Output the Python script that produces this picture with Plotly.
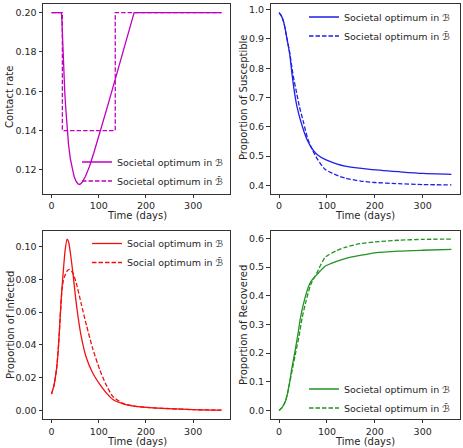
import plotly.graph_objects as go

# ---------------- data ----------------
# Contact rate
t_c_s = [0, 21, 22, 23, 24, 26, 28, 30, 33, 36, 40, 44, 48, 52, 56, 60, 65, 72, 80, 90, 104, 120, 140, 160, 175, 360]
c_s = [0.2, 0.2, 0.196, 0.189, 0.18, 0.169, 0.16, 0.152, 0.14, 0.133, 0.1255, 0.12, 0.1165, 0.1143, 0.1129,
       0.1126, 0.1137, 0.1168, 0.1215, 0.129, 0.14, 0.1535, 0.1704, 0.1873, 0.2, 0.2]
t_c_d = [0, 23, 23, 135, 135, 360]
c_d = [0.2, 0.2, 0.14, 0.14, 0.2, 0.2]

# Susceptible
t_s_s = [0, 5, 10, 16, 22, 27, 31, 37, 46, 58, 70, 80, 96, 120, 138, 190, 250, 300, 360]
s_s = [0.99, 0.978, 0.955, 0.905, 0.85, 0.78, 0.73, 0.672, 0.615, 0.558, 0.523, 0.505, 0.489, 0.474, 0.466,
       0.455, 0.447, 0.441, 0.438]
t_s_d = [0, 5, 10, 16, 22, 27, 31, 35, 42, 51, 60, 70, 80, 96, 120, 138, 170, 200, 250, 300, 360]
s_d = [0.99, 0.978, 0.955, 0.905, 0.855, 0.8, 0.76, 0.729, 0.672, 0.615, 0.558, 0.52, 0.49, 0.455, 0.435,
       0.425, 0.415, 0.41, 0.406, 0.403, 0.402]

# Infected
t_i_s = [0, 5, 11, 15, 18, 22, 25, 29, 33, 36, 40, 46, 53, 63, 74, 87, 102, 115, 130, 150, 171, 200, 250, 300, 360]
i_s = [0.01, 0.015, 0.026, 0.04, 0.055, 0.074, 0.085, 0.098, 0.1045, 0.103, 0.096, 0.082, 0.064, 0.045, 0.032,
       0.023, 0.016, 0.011, 0.0067, 0.0042, 0.0028, 0.0019, 0.0011, 0.0005, 0.0002]
t_i_d = [0, 5, 11, 15, 18, 22, 25, 28, 33, 38, 45, 53, 63, 74, 87, 102, 115, 130, 150, 171, 200, 250, 300, 360]
i_d = [0.01, 0.015, 0.026, 0.04, 0.055, 0.073, 0.079, 0.082, 0.085, 0.086, 0.084, 0.077, 0.065, 0.052, 0.038,
       0.025, 0.016, 0.0085, 0.0045, 0.0028, 0.0019, 0.0011, 0.0005, 0.0002]

# Recovered
t_r_s = [0, 6, 12.5, 17, 21, 26.5, 33, 39, 44.5, 52, 63, 70, 79, 96, 120, 138, 169, 200, 250, 300, 360]
r_s = [0, 0.01, 0.029, 0.055, 0.088, 0.146, 0.205, 0.263, 0.322, 0.38, 0.439, 0.458, 0.474, 0.503, 0.52,
       0.53, 0.541, 0.55, 0.556, 0.559, 0.562]
t_r_d = [0, 6, 12.5, 17, 21, 28, 35, 42, 48, 56, 66, 79, 96, 120, 138, 169, 200, 250, 300, 360]
r_d = [0, 0.01, 0.029, 0.055, 0.088, 0.146, 0.205, 0.263, 0.322, 0.38, 0.439, 0.48, 0.534, 0.558, 0.569,
       0.582, 0.588, 0.594, 0.597, 0.598]

x_ticks = [0, 100, 200, 300]
lab_b = "Societal optimum in \u212C"
lab_bb = "Societal optimum in \u212C\u0304"
lab_i_b = "Social optimum in \u212C"
lab_i_bb = "Social optimum in \u212C\u0304"

# ---------------- figure ----------------
W, H = 463, 448
FONT = "DejaVu Sans"
TXT = "#262626"
DASH = "4.5px,2px"
LW = 1.3

fig = go.Figure()

def add(x, y, color, dash, name, ax, leg, shape="spline"):
    fig.add_trace(go.Scatter(
        x=x, y=y, mode="lines", name=name,
        line=dict(color=color, width=LW, dash=dash, shape=shape,
                  smoothing=0.6 if shape == "spline" else None),
        xaxis="x" + ax, yaxis="y" + ax, legend=leg, showlegend=True))

add(t_c_s, c_s, "#bf00bf", "solid", lab_b, "", "legend", "linear")
add(t_c_d, c_d, "#bf00bf", DASH, lab_bb, "", "legend", "linear")
add(t_s_s, s_s, "#1f1fe8", "solid", lab_b, "2", "legend2")
add(t_s_d, s_d, "#1f1fe8", DASH, lab_bb, "2", "legend2")
add(t_i_s, i_s, "#f01010", "solid", lab_i_b, "3", "legend3")
add(t_i_d, i_d, "#f01010", DASH, lab_i_bb, "3", "legend3")
add(t_r_s, r_s, "#229422", "solid", lab_b, "4", "legend4")
add(t_r_d, r_d, "#229422", DASH, lab_bb, "4", "legend4")

def px_x(p):
    return p / W

def px_y(p):
    return 1 - p / H

dom_x_l = [px_x(43), px_x(230)]
dom_x_r = [px_x(270.5), px_x(460)]
dom_y_t = [px_y(193.5), px_y(4)]
dom_y_b = [px_y(419), px_y(230.5)]

axis_common = dict(
    showline=True, linecolor="#333333", linewidth=0.9, mirror=True,
    ticks="outside", ticklen=3.5, tickwidth=0.9, tickcolor="#333333",
    showgrid=False, zeroline=False,
    tickfont=dict(family=FONT, size=9.5, color=TXT),
)

xr = [-18, 378]
layout_axes = {}
specs = [
    ("", dom_x_l, dom_y_t, [0.108, 0.2044], [0.12, 0.14, 0.16, 0.18, 0.20], "%.2f"),
    ("2", dom_x_r, dom_y_t, [0.3725, 1.0194], [0.4, 0.5, 0.6, 0.7, 0.8, 0.9, 1.0], "%.1f"),
    ("3", dom_x_l, dom_y_b, [-0.0052, 0.1097], [0.0, 0.02, 0.04, 0.06, 0.08, 0.10], "%.2f"),
    ("4", dom_x_r, dom_y_b, [-0.0299, 0.628], [0.0, 0.1, 0.2, 0.3, 0.4, 0.5, 0.6], "%.1f"),
]
for ax, dx, dy, yr, yt, fmt in specs:
    layout_axes["xaxis" + ax] = dict(axis_common, domain=dx, range=xr, tickvals=x_ticks,
                                     ticktext=[str(v) for v in x_ticks],
                                     anchor="y" + ax)
    layout_axes["yaxis" + ax] = dict(axis_common, domain=dy, range=yr, tickvals=yt,
                                     ticktext=[fmt % v for v in yt],
                                     anchor="x" + ax)

leg_common = dict(font=dict(family=FONT, size=9.5, color=TXT), bgcolor="rgba(0,0,0,0)",
                  borderwidth=0, xanchor="left", yanchor="top", tracegroupgap=0,
                  itemwidth=30)

fig.update_layout(
    width=W, height=H, margin=dict(l=0, r=0, t=0, b=0),
    paper_bgcolor="white", plot_bgcolor="white",
    font=dict(family=FONT, size=9.5, color=TXT),
    legend=dict(leg_common, x=px_x(77), y=px_y(147.5)),
    legend2=dict(leg_common, x=px_x(304), y=px_y(2.5)),
    legend3=dict(leg_common, x=px_x(87), y=px_y(229)),
    legend4=dict(leg_common, x=px_x(304), y=px_y(374.5)),
    **layout_axes,
)

ann = []
def title(text, x, y, angle=0):
    ann.append(dict(text=text, x=px_x(x), y=px_y(y), xref="paper", yref="paper",
                    showarrow=False, textangle=angle, xanchor="center", yanchor="middle",
                    font=dict(family=FONT, size=10, color=TXT)))

title("Time (days)", 136.5, 215.5)
title("Time (days)", 365, 215.5)
title("Time (days)", 136.5, 441)
title("Time (days)", 365, 441)
title("Contact rate", 9, 97, -90)
title("Proportion of Susceptible", 243, 98, -90)
title("Proportion of Infected", 10, 325, -90)
title("Proportion of Recovered", 243, 325, -90)
fig.update_layout(annotations=ann)

fig.write_html("out.html")
